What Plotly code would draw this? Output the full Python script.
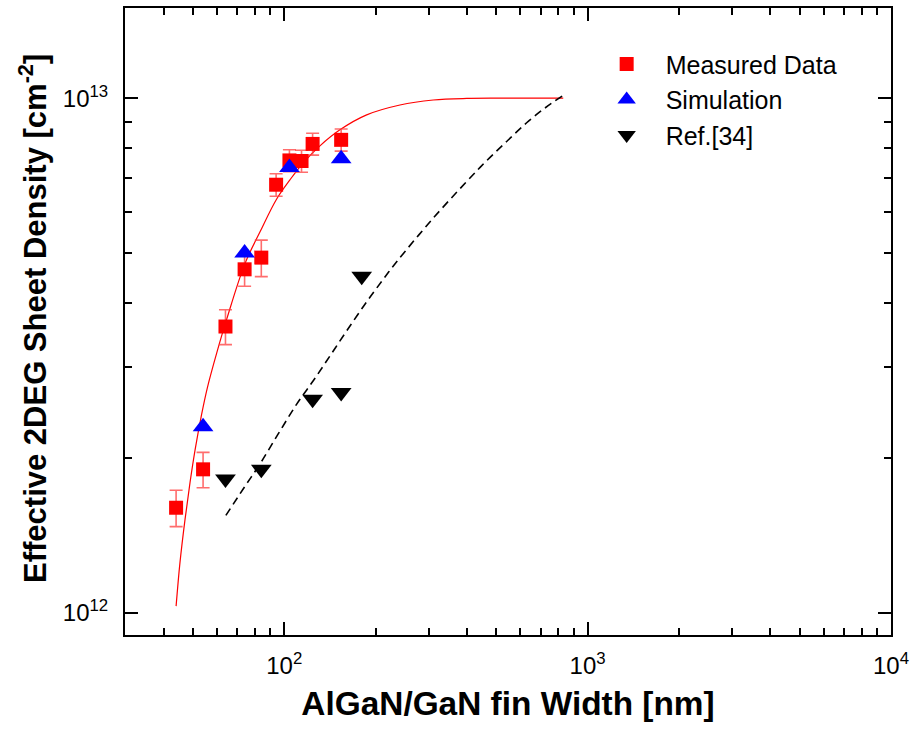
import plotly.graph_objects as go

# ---------------- data ----------------
meas_w = [44, 54, 64, 74, 84, 94, 104, 114, 124, 154]
meas_n = [1.60e12, 1.90e12, 3.60e12, 4.65e12, 4.90e12, 6.79e12, 7.57e12, 7.55e12, 8.15e12, 8.30e12]
meas_err = [0.13e12, 0.15e12, 0.28e12, 0.34e12, 0.40e12, 0.34e12, 0.37e12, 0.37e12, 0.40e12, 0.41e12]

sim_w = [54, 74, 104, 154]
sim_n = [2.30e12, 5.00e12, 7.33e12, 7.63e12]

ref_w = [64, 84, 124, 154, 180]
ref_n = [1.82e12, 1.90e12, 2.60e12, 2.68e12, 4.51e12]

fit_w = [44.0, 45.3, 47.1, 48.9, 50.8, 53.4, 55.8, 59.9, 64.6, 74.2, 83.2, 94.4, 104.4,
         115.5, 131.1, 152.6, 186.9, 240.6, 309.8, 399.4, 520, 831]
fit_n = [1.03e12, 1.25e12, 1.52e12, 1.79e12, 2.07e12, 2.43e12, 2.74e12, 3.20e12,
         3.72e12, 4.77e12, 5.50e12, 6.37e12, 6.94e12, 7.49e12, 8.08e12, 8.68e12,
         9.28e12, 9.70e12, 9.92e12, 9.99e12, 1.0e13, 1.0e13]

# dashed curve for Ref.[34]
ref_fit_w = [64.2, 73.3, 83.2, 95.5, 109.9, 124.6, 141.5, 160.6, 184.5, 212.1, 234.7,
             306.1, 399.4, 464.6, 540.8, 629.5, 723.3, 831.3]
ref_fit_n = [1.546e12, 1.742e12, 1.947e12, 2.226e12, 2.544e12, 2.824e12, 3.157e12,
             3.53e12, 3.977e12, 4.451e12, 4.81e12, 5.80e12, 6.89e12, 7.56e12,
             8.24e12, 8.96e12, 9.57e12, 1.013e13]

# axis ticks
x_tickvals = [100, 1000, 10000]
x_ticktext = ["10<sup>2</sup>", "10<sup>3</sup>", "10<sup>4</sup>"]
x_minorvals = [40, 50, 60, 70, 80, 90, 200, 300, 400, 500, 600, 700, 800, 900,
               2000, 3000, 4000, 5000, 6000, 7000, 8000, 9000]
y_tickvals = [1e12, 1e13]
y_ticktext = ["10<sup>12</sup>", "10<sup>13</sup>"]
y_minorvals = [2e12, 3e12, 4e12, 5e12, 6e12, 7e12, 8e12, 9e12]

x_title = "<b>AlGaN/GaN fin Width [nm]</b>"
y_title = "<b>Effective 2DEG Sheet Density [cm<sup>-2</sup>]</b>"

FONT = "Liberation Sans, Arial, sans-serif"

fig = go.Figure()

fig.add_trace(go.Scatter(
    x=fit_w, y=fit_n, mode="lines", line=dict(color="red", width=1.2, shape="spline"),
    showlegend=False, hoverinfo="skip"))
fig.add_trace(go.Scatter(
    x=ref_fit_w, y=ref_fit_n, mode="lines",
    line=dict(color="black", width=1.6, dash="8px,5px", shape="spline"),
    showlegend=False, hoverinfo="skip"))

fig.add_trace(go.Scatter(
    x=meas_w, y=meas_n, mode="markers", name="Measured Data",
    marker=dict(symbol="square", size=14, color="red"),
    error_y=dict(type="data", array=meas_err, visible=True,
                 color="rgba(255,60,60,0.75)", thickness=1.6, width=6.5)))
fig.add_trace(go.Scatter(
    x=sim_w, y=sim_n, mode="markers", name="Simulation",
    marker=dict(symbol="triangle-up", size=18, color="blue")))
fig.add_trace(go.Scatter(
    x=ref_w, y=ref_n, mode="markers", name="Ref.[34]",
    marker=dict(symbol="triangle-down", size=18, color="black")))

axis_common = dict(
    type="log", showgrid=False, zeroline=False,
    showline=True, linecolor="black", linewidth=2, mirror="ticks",
    ticks="inside", ticklen=13, tickwidth=2, tickcolor="black",
    tickmode="array",
    tickfont=dict(family=FONT, size=24, color="black"),
)

fig.update_xaxes(**axis_common, range=[1.475, 4.0],
                 tickvals=x_tickvals, ticktext=x_ticktext,
                 minor=dict(tickmode="array", tickvals=x_minorvals, ticks="inside",
                            ticklen=7, tickwidth=1.6, tickcolor="black", showgrid=False),
                 title=dict(text=x_title,
                            font=dict(family=FONT, size=33.4, color="black"), standoff=14),
                 ticklabelstandoff=8)
fig.update_yaxes(**axis_common, range=[11.9568, 13.1753],
                 tickvals=y_tickvals, ticktext=y_ticktext,
                 minor=dict(tickmode="array", tickvals=y_minorvals, ticks="inside",
                            ticklen=7, tickwidth=1.6, tickcolor="black", showgrid=False),
                 ticklabelstandoff=10)

# y-axis title as a rotated annotation so it sits centred like the reference
fig.add_annotation(
    text=y_title, xref="paper", yref="paper", x=-0.1201, y=0.504,
    xanchor="center", yanchor="middle", textangle=-90, showarrow=False,
    font=dict(family=FONT, size=31, color="black"))

fig.update_layout(
    width=915, height=734,
    margin=dict(l=125, r=24, t=6, b=99),
    paper_bgcolor="white", plot_bgcolor="white",
    font=dict(family=FONT, color="black"),
    legend=dict(x=0.604, y=0.947, xanchor="left", yanchor="top",
                bgcolor="rgba(0,0,0,0)", borderwidth=0,
                font=dict(family=FONT, size=25, color="black"),
                itemwidth=68, tracegroupgap=0),
)

fig.write_html("out.html")
